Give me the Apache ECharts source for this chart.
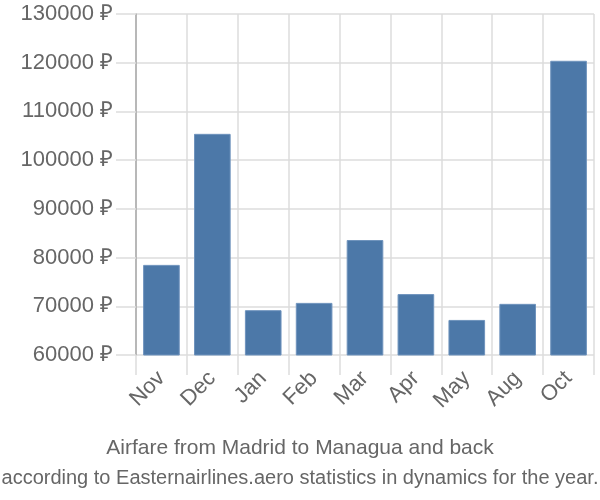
<!DOCTYPE html>
<html><head><meta charset="utf-8">
<script src="https://cdn.jsdelivr.net/npm/echarts@6/dist/echarts.min.js"></script>
<style>html,body{margin:0;padding:0;background:#fff}#c{width:600px;height:500px}</style>
</head><body><div id="c"></div>
<script>
const categories = ['Nov','Dec','Jan','Feb','Mar','Apr','May','Aug','Oct'];
const prices = [78500, 105400, 69200, 70700, 83600, 72500, 67200, 70500, 120400];
const titleText = 'Airfare from Madrid to Managua and back';
const subtitleText = 'according to Easternairlines.aero statistics in dynamics for the year.';

const chart = echarts.init(document.getElementById('c'), null, {renderer:'canvas'});
chart.setOption({
  animation: false,
  title: [
    {text: titleText, left: 'center', top: 433, textStyle:{fontFamily:'Liberation Sans, Arial', fontSize:21, fontWeight:'normal', color:'#666'}},
    {text: subtitleText, left: 'center', top: 463, textStyle:{fontFamily:'Liberation Sans, Arial', fontSize:20, fontWeight:'normal', color:'#666'}}
  ],
  grid: {left:136, right:6, top:14, bottom:145, containLabel:false},
  xAxis: {
    type:'category', data: categories, boundaryGap:true,
    axisLine:{show:false},
    axisTick:{show:true, length:20, interval:0, lineStyle:{color:'#ddd', width:1.5}},
    splitLine:{show:true, interval:0, lineStyle:{color:'#ddd', width:1.5}},
    axisLabel:{rotate:45, interval:0, margin:20, fontFamily:'Liberation Sans, Arial', fontSize:22, color:'#666'}
  },
  yAxis: {
    type:'value', min:60000, max:130000, interval:10000,
    axisLine:{show:true, lineStyle:{color:'#aaa', width:1.5}},
    axisTick:{show:true, length:20, lineStyle:{color:'#ddd', width:1.5}},
    splitLine:{show:true, lineStyle:{color:'#ddd', width:1.5}},
    axisLabel:{formatter: v => v + ' ₽', margin:23, fontFamily:'Liberation Sans, Arial', fontSize:22, color:'#666'}
  },
  series: [{
    type:'bar', data: prices, barCategoryGap:'28%',
    itemStyle:{color:'#4c78a8', borderColor:'#6f93bd', borderWidth:1}
  }]
});
</script></body></html>
